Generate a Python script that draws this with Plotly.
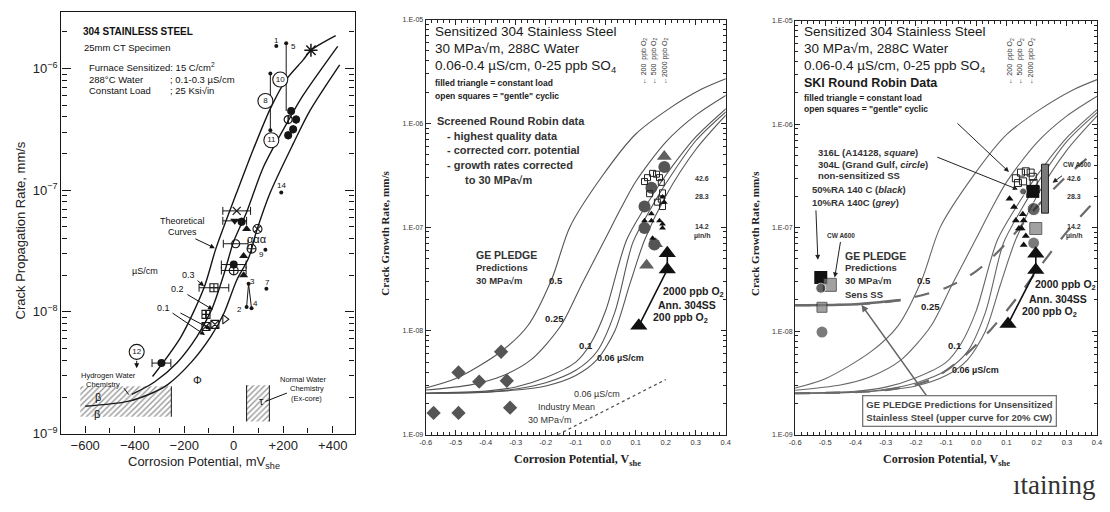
import plotly.graph_objects as go

W, H = 1110, 512
SANS = "Liberation Sans, Arial, sans-serif"
SERIF = "Liberation Serif"

# ================= Panel 1 : 304 stainless steel (mV_she, mm/s) =================
p1_curve03_x = [412, 312, 280, 212, 148, 80, 12, -72, -120, -212, -328]
p1_curve03_y = [1.86e-6, 1.41e-6, 1.17e-6, 8.1e-7, 4.68e-7, 2.19e-7, 9.55e-8, 3.31e-8, 1.58e-8, 6.31e-9, 2.95e-9]
p1_curve02_x = [420, 280, 212, 120, 52, 0, -40, -88, -148, -228, -320, -412]
p1_curve02_y = [1.52e-6, 6.0e-7, 3.47e-7, 1.55e-7, 6.6e-8, 3.8e-8, 2.03e-8, 1.06e-8, 6.3e-9, 3.85e-9, 2.66e-9, 2.1e-9]
p1_curve01_x = [428, 308, 240, 148, 92, 60, 12, -40, -92, -172, -268, -320, -428, -600]
p1_curve01_y = [1.07e-6, 4.5e-7, 2.4e-7, 9.6e-8, 4.6e-8, 2.77e-8, 1.82e-8, 9.7e-9, 6.3e-9, 3.85e-9, 2.52e-9, 2.2e-9, 1.84e-9, 1.68e-9]

p1_dots_x = [172, 212, 148, 148, 192, 128, 132, 60, 52, 72]
p1_dots_y = [1.53e-6, 1.61e-6, 9.1e-7, 3.1e-7, 9.55e-8, 3.24e-8, 1.55e-8, 1.7e-8, 1.1e-8, 1.07e-8]
p1_bigdots_x = [232, 252, 240, 220, 32, 0, -292]
p1_bigdots_y = [4.47e-7, 3.8e-7, 3.16e-7, 2.82e-7, 5.5e-8, 2.45e-8, 3.8e-9]
p1_bigdots_err = [0, 0, 0, 0, 0, 50, 38]
p1_tri_x = [52, 40, 40]
p1_tri_y = [4.8e-8, 2.88e-8, 2.0e-8]
p1_tridown_x = [4]
p1_tridown_y = [5.6e-8]
p1_tridown_err = [48]
p1_cross_x = [12]
p1_cross_y = [6.76e-8]
p1_cross_err = [56]
p1_star_x = [312]
p1_star_y = [1.41e-6]
p1_opencirc_x = [8, 220]
p1_opencirc_y = [3.63e-8, 3.8e-7]
p1_opencirc_err = [50, 0]
p1_circx_x = [96]
p1_circx_y = [4.8e-8]
p1_circplus_x = [72, 0]
p1_circplus_y = [3.3e-8, 2.19e-8]
p1_circplus_err = [0, 50]
p1_sqplus_x = [-80, -112]
p1_sqplus_y = [1.58e-8, 9.55e-9]
p1_sqplus_err = [60, 0]
p1_sqx_x = [-112, -76]
p1_sqx_y = [7.6e-9, 7.9e-9]
p1_triright_x = [-36]
p1_triright_y = [8.7e-9]
p1_circled_lbl = ["10", "8", "11", "12"]
p1_circled_x = [188, 128, 152, -392]
p1_circled_y = [8.1e-7, 5.4e-7, 2.57e-7, 4.7e-9]
p1_hwc_x = [-620, -252]
p1_hwc_y = [1.38e-9, 2.45e-9]
p1_nwc_x = [52, 144]
p1_nwc_y = [1.26e-9, 2.5e-9]
p1_xticks = [-600, -400, -200, 0, 200, 400]
p1_xticktext = ["\u2212600", "\u2212400", "\u2212200", "0", "+200", "+400"]
p1_yticks = [1e-9, 1e-8, 1e-7, 1e-6]
p1_yticktext = ["10<sup>\u22129</sup>", "10<sup>\u22128</sup>", "10<sup>\u22127</sup>", "10<sup>\u22126</sup>"]

# ================= Panels 2 & 3 : GE PLEDGE predictions (V_she, mm/s) =================
pl_05_x = [-0.6, -0.5, -0.35, -0.26, -0.18, -0.12, -0.01, 0.1, 0.21, 0.32, 0.4]
pl_05_y = [2.82e-9, 3.47e-9, 6.3e-9, 1.12e-8, 3.16e-8, 1.0e-7, 3.16e-7, 7.9e-7, 1.38e-6, 2.14e-6, 2.69e-6]
pl_025_x = [-0.6, -0.45, -0.35, -0.25, -0.15, -0.08, 0.0, 0.05, 0.1, 0.2, 0.3, 0.4]
pl_025_y = [2.69e-9, 3.02e-9, 3.63e-9, 5.25e-9, 1.12e-8, 2.82e-8, 7.9e-8, 1.51e-7, 2.75e-7, 6.6e-7, 1.2e-6, 1.86e-6]
pl_01_x = [-0.6, -0.4, -0.3, -0.2, -0.1, -0.05, 0.0, 0.07, 0.15, 0.2, 0.3, 0.4]
pl_01_y = [2.51e-9, 2.63e-9, 2.88e-9, 3.55e-9, 5.0e-9, 7.6e-9, 1.58e-8, 7.6e-8, 1.91e-7, 3.16e-7, 7.4e-7, 1.38e-6]
pl_008_x = [-0.6, -0.4, -0.3, -0.2, -0.1, -0.03, 0.03, 0.09, 0.15, 0.2, 0.3, 0.4]
pl_008_y = [2.51e-9, 2.57e-9, 2.75e-9, 3.16e-9, 4.17e-9, 6.3e-9, 1.51e-8, 7.1e-8, 1.51e-7, 2.63e-7, 6.8e-7, 1.29e-6]
pl_006_x = [-0.6, -0.4, -0.3, -0.2, -0.1, -0.03, 0.03, 0.08, 0.13, 0.2, 0.3, 0.4]
pl_006_y = [2.51e-9, 2.57e-9, 2.69e-9, 2.95e-9, 3.72e-9, 5.25e-9, 1.0e-8, 2.82e-8, 7.6e-8, 2.0e-7, 5.6e-7, 1.2e-6]

p2_diam_x = [-0.574, -0.491, -0.491, -0.422, -0.349, -0.33, -0.319]
p2_diam_y = [1.62e-9, 1.62e-9, 3.98e-9, 3.24e-9, 6.3e-9, 3.31e-9, 1.82e-9]
p2_indmean_x = [-0.16, 0.2]
p2_indmean_y = [1.0e-9, 3.4e-9]
p2_gcirc_x = [0.195, 0.152, 0.129, 0.129, 0.162]
p2_gcirc_y = [3.8e-7, 2.4e-7, 1.58e-7, 9.8e-8, 6.8e-8]
p2_gtri_x = [0.195, 0.166, 0.136]
p2_gtri_y = [4.8e-7, 6.9e-8, 4.3e-8]
p2_btri_x = [0.205, 0.205, 0.11]
p2_btri_y = [5.6e-8, 3.9e-8, 1.12e-8]
p2_osq_x = [0.129, 0.139, 0.156, 0.169, 0.179, 0.185, 0.189, 0.185, 0.189, 0.172, 0.146]
p2_osq_y = [2.75e-7, 3.0e-7, 3.3e-7, 3.24e-7, 3.0e-7, 2.7e-7, 2.14e-7, 1.86e-7, 1.58e-7, 1.74e-7, 2.1e-7]
p2_stri_x = [0.189, 0.195, 0.129, 0.152, 0.179, 0.189, 0.152, 0.189, 0.156]
p2_stri_y = [1.95e-7, 1.74e-7, 1.15e-7, 1.15e-7, 1.15e-7, 1.07e-7, 1.35e-7, 9.8e-8, 7.8e-8]

p3_cw_x = [-0.6, -0.4, -0.25, -0.1, 0.0, 0.1, 0.2, 0.3, 0.4]
p3_cw_y = [1.78e-8, 1.82e-8, 2.0e-8, 2.63e-8, 3.8e-8, 7.1e-8, 1.58e-7, 3.16e-7, 5.6e-7]
p3_uns_x = [-0.6, -0.3, -0.15, -0.05, 0.05, 0.15, 0.2, 0.3, 0.4]
p3_uns_y = [2.51e-9, 2.69e-9, 3.4e-9, 5.4e-9, 1.05e-8, 2.4e-8, 3.8e-8, 9.1e-8, 1.9e-7]
p3_osq_x = [0.131, 0.148, 0.164, 0.18, 0.187, 0.138, 0.19, 0.197, 0.155]
p3_osq_y = [3.0e-7, 3.4e-7, 3.5e-7, 3.4e-7, 3.1e-7, 2.7e-7, 2.7e-7, 2.34e-7, 2.8e-7]
p3_bsq_x = [0.187, -0.515]
p3_bsq_y = [2.24e-7, 3.3e-8]
p3_bcirc_x = [0.19, 0.155, -0.515]
p3_bcirc_y = [1.51e-7, 2.24e-7, 2.6e-8]
p3_bcirc_size = [13, 7, 10]
p3_gsq_x = [0.197, -0.485, -0.511]
p3_gsq_y = [9.8e-8, 2.8e-8, 1.7e-8]
p3_gsq_size = [12, 13, 10]
p3_gcirc_x = [0.19, -0.511]
p3_gcirc_y = [7.1e-8, 9.8e-9]
p3_bar_x = [0.216, 0.239]
p3_bar_y = [1.38e-7, 4.1e-7]
p3_btri_x = [0.197, 0.197, 0.105]
p3_btri_y = [5.6e-8, 3.9e-8, 1.17e-8]
p3_stri_x = [0.125, 0.154, 0.131, 0.157, 0.141, 0.150, 0.164, 0.157, 0.11]
p3_stri_y = [1.58e-7, 1.35e-7, 1.17e-7, 1.17e-7, 9.8e-8, 9.8e-8, 8.3e-8, 6.8e-8, 1.9e-7]

p23_xticks = [-0.6, -0.5, -0.4, -0.3, -0.2, -0.1, 0.0, 0.1, 0.2, 0.3, 0.4]
p23_xticktext = ["-0.6", "-0.5", "-0.4", "-0.3", "-0.2", "-0.1", "0.0", "0.1", "0.2", "0.3", "0.4"]
p23_yticks = [1e-9, 1e-8, 1e-7, 1e-6, 1e-5]
p23_yticktext = ["1.E-09", "1.E-08", "1.E-07", "1.E-06", "1.E-05"]

minor_log = [m * 10.0 ** k for k in range(-9, -5) for m in range(2, 10)]

fig = go.Figure()


def sc(x, y, ax, **kw):
    fig.add_trace(go.Scatter(x=x, y=y, xaxis="x" + ax, yaxis="y" + ax, showlegend=False,
                             hoverinfo="skip", cliponaxis=False, **kw))


def box_xy(xs, ys):
    return [xs[0], xs[1], xs[1], xs[0], xs[0]], [ys[0], ys[0], ys[1], ys[1], ys[0]]


K = "#161616"
# ---------- panel 1 traces ----------
for cx, cy in [(p1_curve03_x, p1_curve03_y), (p1_curve02_x, p1_curve02_y), (p1_curve01_x, p1_curve01_y)]:
    sc(cx, cy, "", mode="lines", line=dict(color=K, width=1.4, shape="spline", smoothing=0.8))
for bxs, bys in [(p1_hwc_x, p1_hwc_y), (p1_nwc_x, p1_nwc_y)]:
    hx, hy = box_xy(bxs, bys)
    sc(hx, hy, "", mode="lines", fill="toself", line=dict(color="rgba(0,0,0,0)", width=0),
       fillcolor="rgba(255,255,255,0)", fillpattern=dict(shape="/", fgcolor="#333", size=4, solidity=0.35))
sc([p1_hwc_x[1], p1_hwc_x[1]], p1_hwc_y, "", mode="lines", line=dict(color=K, width=1))
sc([p1_nwc_x[0], p1_nwc_x[0], None, p1_nwc_x[1], p1_nwc_x[1]],
   [p1_nwc_y[0], p1_nwc_y[1], None, p1_nwc_y[0], p1_nwc_y[1]], "", mode="lines", line=dict(color=K, width=1))
sc([p1_dots_x[1], p1_dots_x[1]], [p1_dots_y[1], p1_bigdots_y[0]], "", mode="lines", line=dict(color=K, width=1))
sc([p1_dots_x[2], p1_dots_x[3]], [p1_dots_y[2], p1_dots_y[3]], "", mode="lines", line=dict(color=K, width=1))
sc([p1_dots_x[8], p1_dots_x[7], p1_dots_x[9]], [p1_dots_y[8], p1_dots_y[7], p1_dots_y[9]], "", mode="lines",
   line=dict(color=K, width=1))
sc(p1_dots_x, p1_dots_y, "", mode="markers", marker=dict(color=K, size=4))
sc(p1_bigdots_x, p1_bigdots_y, "", mode="markers", marker=dict(color=K, size=8),
   error_x=dict(type="data", array=p1_bigdots_err, color=K, thickness=1, width=4))
sc(p1_tri_x, p1_tri_y, "", mode="markers", marker=dict(color=K, size=8, symbol="triangle-up"))
sc(p1_tridown_x, p1_tridown_y, "", mode="markers", marker=dict(color=K, size=8, symbol="triangle-down"),
   error_x=dict(type="data", array=p1_tridown_err, color=K, thickness=1, width=4))
sc(p1_cross_x, p1_cross_y, "", mode="markers", marker=dict(color=K, size=8, symbol="x-thin-open", line=dict(width=1.3, color=K)),
   error_x=dict(type="data", array=p1_cross_err, color=K, thickness=1, width=4))
sc(p1_star_x, p1_star_y, "", mode="markers", marker=dict(color=K, size=11, symbol="asterisk-open", line=dict(width=1.5, color=K)))
sc(p1_opencirc_x, p1_opencirc_y, "", mode="markers", marker=dict(color=K, size=8, symbol="circle-open", line=dict(width=1.2)),
   error_x=dict(type="data", array=p1_opencirc_err, color=K, thickness=1, width=4))
sc(p1_circx_x, p1_circx_y, "", mode="markers", marker=dict(color=K, size=9, symbol="circle-x-open", line=dict(width=1.1)))
sc(p1_circplus_x, p1_circplus_y, "", mode="markers", marker=dict(color=K, size=9, symbol="circle-cross-open", line=dict(width=1.1)),
   error_x=dict(type="data", array=p1_circplus_err, color=K, thickness=1, width=4))
sc(p1_sqplus_x, p1_sqplus_y, "", mode="markers", marker=dict(color=K, size=8, symbol="square-cross-open", line=dict(width=1.1)),
   error_x=dict(type="data", array=p1_sqplus_err, color=K, thickness=1, width=4))
sc(p1_sqx_x, p1_sqx_y, "", mode="markers", marker=dict(color=K, size=8, symbol="square-x-open", line=dict(width=1.1)))
sc(p1_triright_x, p1_triright_y, "", mode="markers", marker=dict(color=K, size=8, symbol="triangle-right-open", line=dict(width=1.1)))
sc(p1_circled_x, p1_circled_y, "", mode="markers+text", text=p1_circled_lbl, textposition="middle center",
   textfont=dict(size=8, color=K, family=SANS),
   marker=dict(color="white", size=15, symbol="circle", line=dict(width=1.1, color=K)))

# ---------- panels 2 & 3 ----------
CURVES = [(pl_05_x, pl_05_y), (pl_025_x, pl_025_y), (pl_01_x, pl_01_y), (pl_008_x, pl_008_y), (pl_006_x, pl_006_y)]
for ax in ["2", "3"]:
    for cx, cy in CURVES:
        sc(cx, cy, ax, mode="lines", line=dict(color="#555" if ax == "2" else "#666", width=1.1, shape="spline", smoothing=0.8))

sc(p3_cw_x, p3_cw_y, "3", mode="lines", line=dict(color="#6a6a6a", width=2.2, dash="longdash", shape="spline", smoothing=0.8))
sc(p3_cw_x[:3], p3_cw_y[:3], "3", mode="lines", line=dict(color="#6a6a6a", width=2.4, shape="spline", smoothing=0.8))
sc(p3_uns_x, p3_uns_y, "3", mode="lines", line=dict(color="#6a6a6a", width=2.2, dash="longdash", shape="spline", smoothing=0.8))

sc(p2_indmean_x, p2_indmean_y, "2", mode="lines", line=dict(color="#555", width=1.3, dash="dot"))
sc(p2_diam_x, p2_diam_y, "2", mode="markers", marker=dict(color="#555", size=11, symbol="diamond"))
sc(p2_gtri_x, p2_gtri_y, "2", mode="markers", marker=dict(color="#606060", size=13, symbol="triangle-up"))
sc(p2_gcirc_x, p2_gcirc_y, "2", mode="markers", marker=dict(color="#555", size=12, symbol="circle"))
sc(p2_osq_x, p2_osq_y, "2", mode="markers", marker=dict(color="#222", size=6, symbol="square-open", line=dict(width=1)))
sc(p2_stri_x, p2_stri_y, "2", mode="markers", marker=dict(color="#111", size=6, symbol="triangle-up"))
sc(p2_btri_x, p2_btri_y, "2", mode="lines", line=dict(color="#111", width=1.6))
sc(p2_btri_x, p2_btri_y, "2", mode="markers", marker=dict(color="#111", size=15, symbol="triangle-up"))

bx, by = box_xy(p3_bar_x, p3_bar_y)
sc(bx, by, "3", mode="lines", fill="toself", fillcolor="#7a7a7a", line=dict(color="#222", width=1))
sc(p3_osq_x, p3_osq_y, "3", mode="markers", marker=dict(color="#222", size=7, symbol="square-open", line=dict(width=1)))
sc(p3_stri_x, p3_stri_y, "3", mode="markers", marker=dict(color="#111", size=7, symbol="triangle-up"))
sc(p3_bsq_x, p3_bsq_y, "3", mode="markers", marker=dict(color="#111", size=13, symbol="square"))
sc(p3_gsq_x, p3_gsq_y, "3", mode="markers", marker=dict(color="#7a7a7a", size=p3_gsq_size, symbol="square", line=dict(color="#222", width=1)))
sc(p3_bcirc_x, p3_bcirc_y, "3", mode="markers", marker=dict(color="#222", size=p3_bcirc_size, symbol="circle"))
sc(p3_gcirc_x, p3_gcirc_y, "3", mode="markers", marker=dict(color="#7a7a7a", size=11, symbol="circle"))
sc(p3_btri_x, p3_btri_y, "3", mode="lines", line=dict(color="#111", width=1.6))
sc(p3_btri_x, p3_btri_y, "3", mode="markers", marker=dict(color="#111", size=15, symbol="triangle-up"))

# ---------- annotations ----------
ann = []


def T(x, y, s, size=9, anchor="left", bold=False, color="#111", family=SANS, angle=0):
    if bold:
        s = "<b>" + s + "</b>"
    ann.append(dict(x=x / W, y=1 - y / H, xref="paper", yref="paper", text=s, showarrow=False,
                    xanchor=anchor, yanchor="middle", font=dict(size=size, color=color, family=family),
                    textangle=angle))


def ARW(x0, y0, x1, y1, color="#111", width=1.0, head=2):
    ann.append(dict(x=x1 / W, y=1 - y1 / H, xref="paper", yref="paper", ax=x0 - x1, ay=y0 - y1,
                    text="", showarrow=True, arrowhead=head, arrowsize=1, arrowwidth=width, arrowcolor=color,
                    standoff=0, startstandoff=0))


# panel 1 text
T(76, 28, "304 STAINLESS STEEL", 10, bold=True)
T(77, 45, "25mm CT Specimen", 9.5)
T(82, 65, "Furnace Sensitized: 15 C/cm<sup>2</sup>", 9.5)
T(82, 77, "288\u00b0C Water", 9.5)
T(164, 77, "; 0.1-0.3 \u00b5S/cm", 9.5)
T(82, 89, "Constant Load", 9.5)
T(164, 89, "; 25 Ksi\u221ain", 9.5)
T(273, 37, "1", 8, "center")
T(290, 44, "5", 8, "center")
T(278, 186, "14", 8, "center")
T(258, 257, "9", 8, "center")
T(264, 285, "7", 8, "center")
T(249, 284, "3", 8, "center")
T(236, 313, "2", 8, "center")
T(252, 307, "4", 8, "center")
T(254, 241, "\u03b1\u03b1\u03b1", 11, "center")
T(178, 222, "Theoretical", 9, "center")
T(178, 233, "Curves", 9, "center")
ARW(190, 240, 211, 250)
T(140, 273, "\u00b5S/cm", 9, "center")
T(184, 278, "0.3", 9, "center")
ARW(192, 282, 200, 289)
T(173, 292, "0.2", 9, "center")
ARW(182, 297, 209, 313)
T(159, 311, "0.1", 9, "center")
ARW(167, 316, 201, 339)
ARW(175, 316, 207, 333)
T(104, 380, "Hydrogen Water", 7.5, "center")
T(98, 390, "Chemistry", 7.5, "center")
ARW(118, 392, 124, 400, head=0)
T(300, 384, "Normal Water", 7.5, "center")
T(304, 394, "Chemistry", 7.5, "center")
T(304, 404, "(Ex-core)", 7.5, "center")
ARW(285, 398, 262, 407, head=0)
T(93, 402, "\u03b2", 11, "center")
T(92, 420, "\u03b2", 11, "center")
T(258, 407, "\u03c4", 11, "center")
T(193, 385, "\u03a6", 11, "center")
ARW(132, 364, 132, 373, head=2)
T(15, 232, "Crack Propagation Rate, mm/s", 13, "center", angle=-90, color="#222")
T(200, 469, "Corrosion Potential, mV<sub>she</sub>", 13, "center", color="#222")

# panels 2 and 3 shared texts
for ox, ytitle_x, xtitle_x in [(0, 383, 577), (373, 757, 950)]:
    hx0 = 431 + ox
    T(hx0, 28, "Sensitized 304 Stainless Steel", 13.5, color="#1a1a1a")
    T(hx0, 46, "30 MPa\u221am, 288C Water", 13.5, color="#1a1a1a")
    T(hx0, 64, "0.06-0.4 \u00b5S/cm, 0-25 ppb SO<sub>4</sub>", 13.5, color="#1a1a1a")
    T(ytitle_x, 235, "Crack Growth Rate, mm/s", 11, "center", bold=True, family=SERIF, angle=-90, color="#222")
    T(xtitle_x, 467, "Corrosion Potential, V<sub>she</sub>", 12, "center", bold=True, family=SERIF, color="#222")

T(431, 81, "filled triangle = constant load", 8.5, bold=True, color="#222")
T(431, 94, "open squares = \"gentle\" cyclic", 8.5, bold=True, color="#222")
T(433, 120, "Screened Round Robin data", 11, bold=True, color="#333")
T(443, 135, "- highest quality data", 11, bold=True, color="#333")
T(443, 150, "- corrected corr. potential", 11, bold=True, color="#333")
T(443, 165, "- growth rates corrected", 11, bold=True, color="#333")
T(462, 180, "to 30 MPa\u221am", 11, bold=True, color="#333")
T(473, 257, "GE PLEDGE", 10.5, bold=True, color="#333")
T(473, 270, "Predictions", 9.5, bold=True, color="#333")
T(473, 283, "30 MPa\u221am", 9.5, bold=True, color="#333")
T(546, 283, "0.5", 9.5, bold=True, color="#222")
T(542, 322, "0.25", 9.5, bold=True, color="#222")
T(577, 350, "0.1", 9.5, bold=True, color="#222")
T(595, 363, "0.06 \u00b5S/cm", 9, bold=True, color="#222")
T(597, 399, "0.06 \u00b5S/cm", 9, "center", color="#333")
T(566, 413, "Industry Mean", 9, "center", color="#333")
T(549, 426, "30 MPa\u221am", 9, "center", color="#333")
T(662, 295, "2000 ppb O<sub>2</sub>", 10.5, bold=True, color="#222")
T(657, 308, "Ann. 304SS", 10.5, bold=True, color="#222")
T(651, 322, "200 ppb O<sub>2</sub>", 10.5, bold=True, color="#222")

for ox in [0, 376]:
    T(703 + ox, 179, "42.6", 7, "center", bold=True, color="#333")
    T(703 + ox, 197, "28.3", 7, "center", bold=True, color="#333")
    T(703 + ox, 228, "14.2", 7, "center", bold=True, color="#333")
    T(703 + ox, 238, "\u00b5in/h", 7, "center", bold=True, color="#333")

for (xx, s) in [(644, "\u2190 200  ppb O<sub>2</sub>"), (654, "\u2190 500  ppb O<sub>2</sub>"), (665, "\u21902000 ppb O<sub>2</sub>")]:
    T(xx, 58, s, 7, "center", angle=-90, color="#333")
    T(xx + 370, 58, s, 7, "center", angle=-90, color="#333")

# panel 3 specifics
T(804, 81, "SKI Round Robin Data", 12.5, bold=True, color="#1a1a1a")
T(804, 96, "filled triangle = constant load", 8.5, bold=True, color="#222")
T(804, 108, "open squares = \"gentle\" cyclic", 8.5, bold=True, color="#222")
T(818, 152, "316L (A14128, <i>square</i>)", 9.5, bold=True, color="#333")
T(818, 164, "304L (Grand Gulf, <i>circle</i>)", 9.5, bold=True, color="#333")
T(818, 176, "non-sensitized SS", 9.5, bold=True, color="#333")
T(812, 190, "50%RA 140 C (<i>black</i>)", 9.5, bold=True, color="#333")
T(812, 203, "10%RA 140C (<i>grey</i>)", 9.5, bold=True, color="#333")
T(843, 237, "CW A600", 6.5, "center", bold=True, color="#333")
T(1082, 164, "CW A600", 6.5, "center", bold=True, color="#333")
T(845, 258, "GE PLEDGE", 10.5, bold=True, color="#333")
T(845, 270, "Predictions", 9.5, bold=True, color="#333")
T(845, 283, "30 MPa\u221am", 9.5, bold=True, color="#333")
T(845, 297, "Sens SS", 9.5, bold=True, color="#333")
T(918, 283, "0.5", 9.5, bold=True, color="#222")
T(922, 310, "0.25", 9.5, bold=True, color="#222")
T(949, 350, "0.1", 9.5, bold=True, color="#222")
T(953, 375, "0.06 \u00b5S/cm", 9, bold=True, color="#222")
T(1037, 288, "2000 ppb O<sub>2</sub>", 10.5, bold=True, color="#222")
T(1031, 302, "Ann. 304SS", 10.5, bold=True, color="#222")
T(1024, 315, "200 ppb O<sub>2</sub>", 10.5, bold=True, color="#222")
ARW(960, 122, 1013, 172, color="#222")
ARW(940, 157, 1022, 190, color="#222")
ARW(818, 211, 820, 262, color="#222")
ARW(843, 243, 837, 280, color="#222")
ARW(1068, 175, 1057, 183, color="#222")
ARW(932, 403, 864, 308, color="#666", width=1.4)
ann.append(dict(x=963 / W, y=1 - 417 / H, xref="paper", yref="paper", showarrow=False, align="left",
                text="<b>GE PLEDGE Predictions for Unsensitized<br>Stainless Steel (upper curve for 20% CW)</b>",
                font=dict(size=9.5, color="#444", family=SANS), bgcolor="white", bordercolor="#777",
                borderwidth=1.3, borderpad=3, xanchor="center", yanchor="middle"))

T(1103, 493, "\u0131taining", 27, "right", family=SERIF, color="#333")

# ---------- axes ----------
def xdom(a, b):
    return [a / W, b / W]


def ydom(top, bot):
    return [1 - bot / H, 1 - top / H]


layout = dict(width=W, height=H, margin=dict(l=0, r=0, t=0, b=0), paper_bgcolor="white", plot_bgcolor="white",
              annotations=ann, showlegend=False)

layout["xaxis"] = dict(domain=xdom(56, 352), range=[-696, 488], tickvals=p1_xticks, ticktext=p1_xticktext,
                       ticks="inside", ticklen=7, tickcolor=K, showline=True, linecolor=K, linewidth=1.4, mirror=True,
                       showgrid=False, zeroline=False, tickfont=dict(size=13, family=SANS, color="#222"), anchor="y",
                       minor=dict(tickvals=[-500, -300, -100, 100, 300], ticks="inside", ticklen=5, tickcolor=K))
layout["yaxis"] = dict(domain=ydom(8, 440), type="log", range=[-9, -5.535], tickvals=p1_yticks, ticktext=p1_yticktext,
                       ticks="inside", ticklen=9, tickcolor=K, showline=True, linecolor=K, linewidth=1.4,
                       mirror="allticks", showgrid=False, zeroline=False, anchor="x",
                       tickfont=dict(size=13, family=SANS, color="#222"),
                       minor=dict(tickvals=minor_log, ticks="inside", ticklen=5, tickcolor=K))

for n, (l, r, t, b) in {"2": (424, 727, 16, 441), "3": (797, 1102, 17, 441)}.items():
    layout["xaxis" + n] = dict(domain=xdom(l, r), range=[-0.6, 0.4], tickvals=p23_xticks, ticktext=p23_xticktext,
                               ticks="inside", ticklen=5, tickcolor="#222", showline=True, linecolor="#222",
                               linewidth=1.3, mirror="allticks", showgrid=False, zeroline=False, anchor="y" + n,
                               tickfont=dict(size=7.5, family=SANS, color="#333"),
                               minor=dict(dtick=0.02, ticks="inside", ticklen=3, tickcolor="#222"))
    layout["yaxis" + n] = dict(domain=ydom(t, b), type="log", range=[-9, -5], tickvals=p23_yticks,
                               ticktext=p23_yticktext, ticks="inside", ticklen=5, tickcolor="#222", showline=True,
                               linecolor="#222", linewidth=1.3, mirror="allticks", showgrid=False, zeroline=False,
                               anchor="x" + n, tickfont=dict(size=7, family=SANS, color="#333"),
                               minor=dict(tickvals=minor_log, ticks="inside", ticklen=3, tickcolor="#222"))

fig.update_layout(**layout)
fig.write_html("out.html")
